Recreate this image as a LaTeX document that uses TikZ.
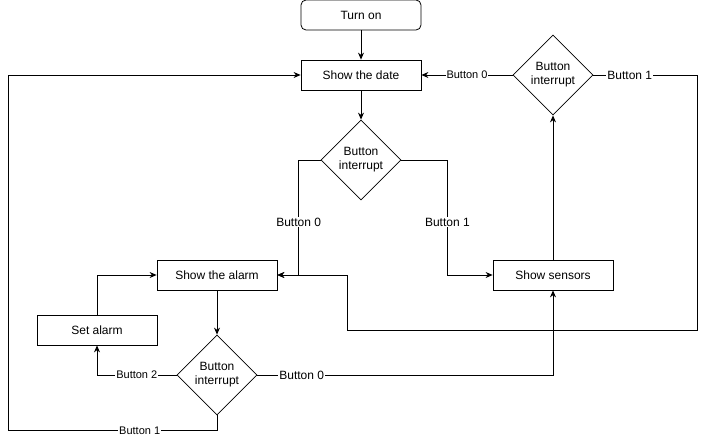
\documentclass[tikz,border=0pt]{standalone}
\usepackage{fontspec}
\setmainfont{Liberation Sans}
\usetikzlibrary{shapes.geometric,arrows.meta}

\begin{document}
\begin{tikzpicture}[x=1pt,y=-1pt,line width=0.8pt,>={Stealth[length=7pt,width=6pt]},
  box/.style={draw,minimum width=120pt,minimum height=30pt,inner sep=0pt,font=\fontsize{12}{14}\selectfont},
  startbox/.style={box,rounded corners=5pt},
  decision/.style={draw,diamond,aspect=1,minimum width=80pt,minimum height=80pt,inner sep=0pt,align=center,font=\fontsize{12}{14}\selectfont},
  lbl/.style={fill=white,inner sep=1pt,font=\fontsize{11}{13}\selectfont},
  biglbl/.style={lbl,font=\fontsize{12}{14}\selectfont}]
\useasboundingbox (0,0) rectangle (706,439);
\node[startbox] (turnon) at (361,15) {Turn on};
\node[box] (date) at (361,75) {Show the date};
\node[decision] (intr) at (553,75) {Button\\interrupt};
\node[decision] (intm) at (361,160) {Button\\interrupt};
\node[box] (alarm) at (217,275) {Show the alarm};
\node[box] (sensors) at (553,275) {Show sensors};
\node[box] (setal) at (97,330) {Set alarm};
\node[decision] (intb) at (217,375) {Button\\interrupt};
\draw[->] (turnon) -- (date);
\draw[->] (date) -- (intm);
\draw[->] (intm.west) -- ++(-22,0) |- node[biglbl,pos=0.27]{Button 0} (alarm.east);
\draw[->] (intm.east) -- ++(46,0) |- node[biglbl,pos=0.27]{Button 1} (sensors.west);
\draw[->] (sensors) -- (intr);
\draw[->] (intr.west) -- node[lbl]{Button 0} (date.east);
\draw[->] (intr.east) -- node[biglbl,pos=0.35]{Button 1} ++(104,0) |- (347,330) |- (alarm.east);
\draw[->] (alarm) -- (intb);
\draw[->] (intb.west) -| node[lbl,pos=0.25]{Button 2} (setal.south);
\draw[->] (intb.east) -| node[biglbl,pos=0.075]{Button 0} (sensors.south);
\draw[->] (intb.south) -- ++(0,15) -- node[lbl,pos=0.37]{Button 1} ++(-209,0) |- (date.west);
\draw[->] (setal.north) |- (alarm.west);
\end{tikzpicture}
\end{document}
